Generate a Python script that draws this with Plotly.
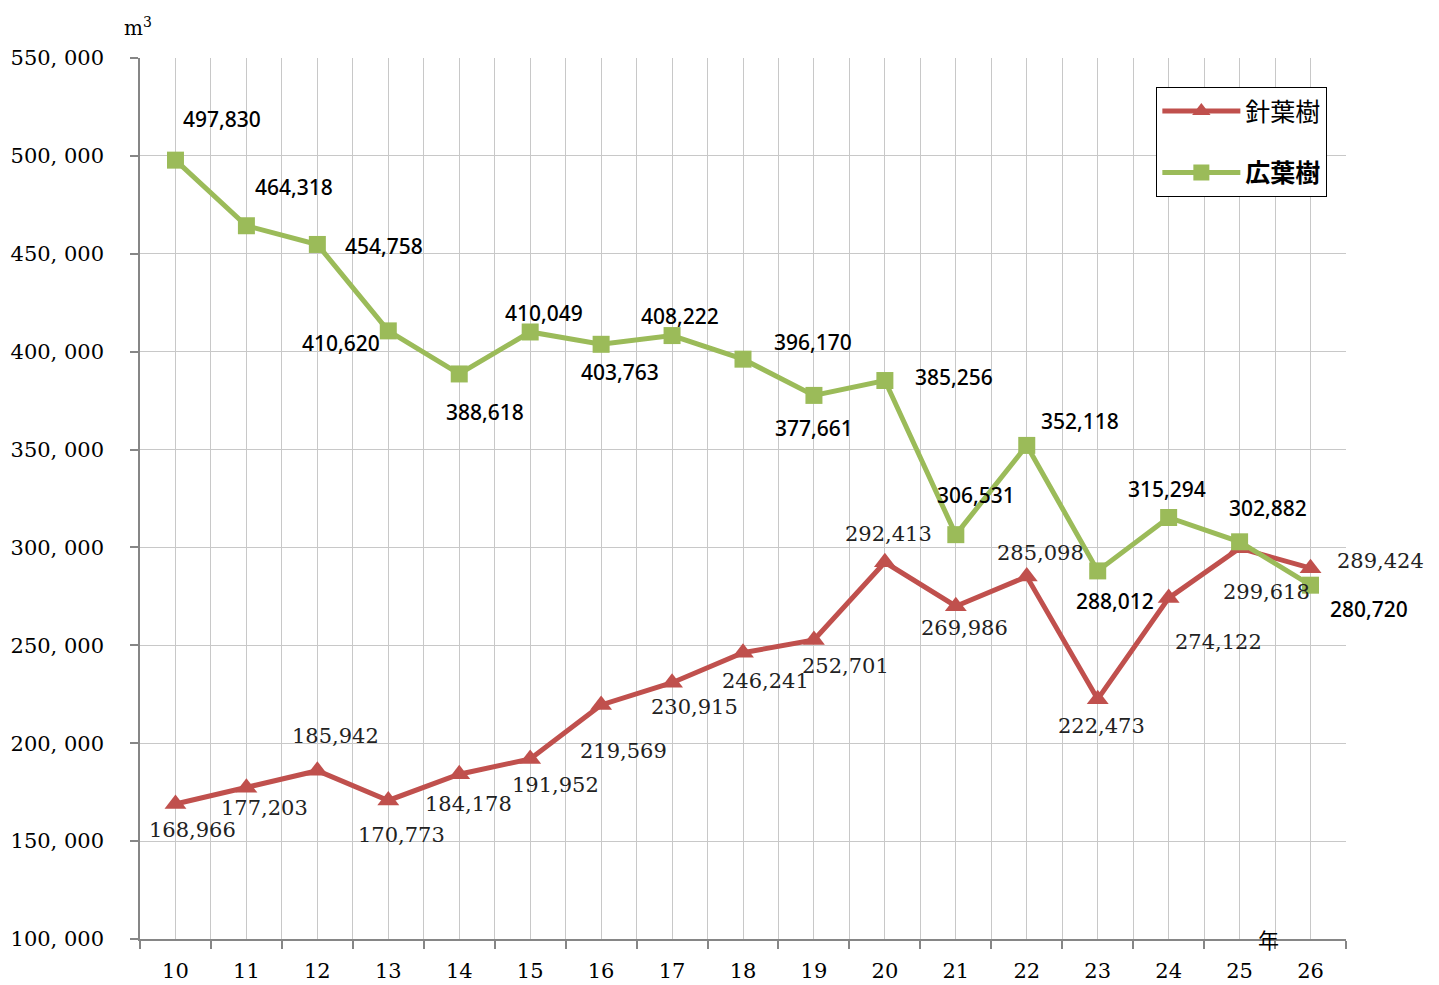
import plotly.graph_objects as go

years = ["10", "11", "12", "13", "14", "15", "16", "17", "18", "19", "20", "21", "22", "23", "24", "25", "26"]
conifer = [168966, 177203, 185942, 170773, 184178, 191952, 219569, 230915, 246241, 252701,
           292413, 269986, 285098, 222473, 274122, 299618, 289424]
broadleaf = [497830, 464318, 454758, 410620, 388618, 410049, 403763, 408222, 396170, 377661,
             385256, 306531, 352118, 288012, 315294, 302882, 280720]
y_ticks = [100000, 150000, 200000, 250000, 300000, 350000, 400000, 450000, 500000, 550000]
y_ticktext = ["100, 000", "150, 000", "200, 000", "250, 000", "300, 000", "350, 000",
              "400, 000", "450, 000", "500, 000", "550, 000"]

# label offsets (pixels) for data labels
green_off = [(47, -41), (48, -39), (67, 2), (-47, 12), (26, 38), (14, -19), (19, 28), (8, -20),
             (70, -17), (0, 33), (69, -4), (20, -40), (53, -24), (17, 30), (-2, -29), (28, -34), (58, 24)]
red_off = [(17, 26), (18, 20), (18, -35), (13, 35), (9, 30), (25, 26), (22, 46), (22, 24),
           (22, 28), (32, 26), (4, -28), (9, 22), (14, -24), (4, 27), (50, 44), (27, 44), (70, -7)]

RED = "#C0504D"
GREEN = "#9BBB59"
SERIF = "DejaVu Serif, Liberation Serif, Noto Sans CJK JP, serif"
SANS = "Noto Sans, Liberation Sans, Noto Sans CJK JP, sans-serif"

xs = list(range(len(years)))

fig = go.Figure()
fig.add_trace(go.Scatter(
    x=xs, y=conifer, mode="lines+markers", name="針葉樹",
    line=dict(color=RED, width=5),
    marker=dict(symbol="triangle-up", size=19, color=RED),
    legendgroup="a",
))
fig.add_trace(go.Scatter(
    x=xs, y=broadleaf, mode="lines+markers", name="<b>広葉樹</b>",
    line=dict(color=GREEN, width=5),
    marker=dict(symbol="square", size=17, color=GREEN),
    legendgroup="b",
))

annotations = []
for i, v in enumerate(broadleaf):
    dx, dy = green_off[i]
    annotations.append(dict(x=xs[i], y=v, text=f"{v:,}", showarrow=False,
                            xshift=dx, yshift=-dy,
                            font=dict(family=SANS, size=21, color="black", weight=500)))
for i, v in enumerate(conifer):
    dx, dy = red_off[i]
    annotations.append(dict(x=xs[i], y=v, text=f"{v:,}", showarrow=False,
                            xshift=dx, yshift=-dy,
                            font=dict(family=SERIF, size=21, color="#222")))
annotations.append(dict(xref="paper", yref="paper", x=-0.002, y=1.018, xanchor="center", yanchor="bottom",
                        text="m<sup>3</sup>", showarrow=False,
                        font=dict(family=SERIF, size=20, color="black")))
annotations.append(dict(xref="paper", yref="paper", x=0.936, y=0.0, xanchor="center", yanchor="middle",
                        text="年", showarrow=False,
                        font=dict(family="Noto Sans CJK JP", size=21, color="black")))

fig.update_layout(
    width=1439, height=985,
    margin=dict(l=140, r=93, t=58, b=46, autoexpand=False),
    plot_bgcolor="white", paper_bgcolor="white",
    showlegend=True,
    legend=dict(x=0.8425, y=0.967, xanchor="left", yanchor="top",
                bgcolor="white", bordercolor="black", borderwidth=1.3,
                font=dict(family=SANS, size=25, color="black"),
                tracegroupgap=26, traceorder="grouped", itemwidth=78),
    annotations=annotations,
)
fig.update_xaxes(
    range=[-0.5, len(years) - 0.5], automargin=False,
    tickvals=xs, ticktext=years, ticks="",
    showgrid=True, gridcolor="#C8C8C8", gridwidth=1.3,
    showline=True, linecolor="#868686", linewidth=1.5,
    zeroline=False, ticklabelstandoff=12,
    tickfont=dict(family=SERIF, size=21, color="black"),
    minor=dict(tickvals=[i - 0.5 for i in range(len(years) + 1)], showgrid=True,
               gridcolor="#C8C8C8", gridwidth=1.3, ticks="outside", ticklen=8,
               tickcolor="#868686", tickwidth=1.5),
)
fig.update_yaxes(
    range=[100000, 550000], automargin=False,
    tickvals=y_ticks, ticktext=y_ticktext,
    ticks="outside", ticklen=8, tickcolor="#868686", tickwidth=1.5,
    showgrid=True, gridcolor="#C8C8C8", gridwidth=1.3,
    showline=True, linecolor="#868686", linewidth=1.5,
    zeroline=False, ticklabelstandoff=22,
    tickfont=dict(family=SERIF, size=21, color="black"),
)

fig.write_html("out.html")
